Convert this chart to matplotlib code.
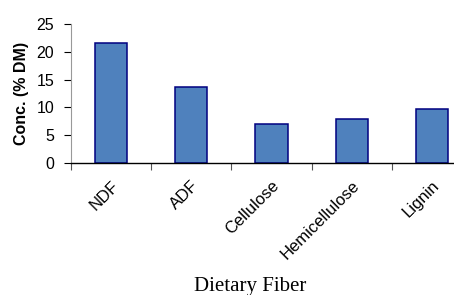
import numpy as np
import matplotlib as mpl
mpl.use('Agg')
import matplotlib.pyplot as plt

# data
fibers = ['NDF', 'ADF', 'Cellulose', 'Hemicellulose', 'Lignin']
conc = [21.5, 13.7, 7.0, 8.0, 9.8]

mpl.rcParams['font.family'] = ['Liberation Sans', 'DejaVu Sans']

fig = plt.figure(figsize=(4.54, 2.95), dpi=100)
ax = fig.add_axes([71/454., 1-163/295., 401/454., 139/295.])

x = np.arange(len(fibers))
ax.bar(x, conc, width=0.4, color='#4F81BD', edgecolor='#000080', linewidth=1.1)

ax.set_xlim(-0.5, len(fibers)-0.5)
ax.set_ylim(0, 25)
ax.set_yticks([0, 5, 10, 15, 20, 25])
ax.tick_params(axis='y', direction='out', length=5, width=0.8, pad=7, labelsize=11.5)

# category labels at centres, tick marks on the boundaries
ax.set_xticks(x)
ax.set_xticklabels(fibers, rotation=45, ha='right', va='top', rotation_mode='anchor', fontsize=12)
ax.tick_params(axis='x', which='major', length=0, pad=11)
ax.set_xticks(np.arange(-0.5, len(fibers), 1.0), minor=True)
ax.tick_params(axis='x', which='minor', direction='out', length=5, width=0.8, color='#555555')

for s in ['top', 'right']:
    ax.spines[s].set_visible(False)
ax.spines['left'].set_color('#999999')
ax.spines['bottom'].set_color('black')
ax.spines['bottom'].set_linewidth(1.0)

ax.set_ylabel('Conc. (% DM)', fontsize=11.5, fontweight='bold')
ax.yaxis.set_label_coords(-0.105, 0.5)

fig.text(250/454., 1-287/295., 'Dietary Fiber', family='Liberation Serif', fontsize=15,
         ha='center', va='center')

plt.savefig('out.png', dpi=100)
